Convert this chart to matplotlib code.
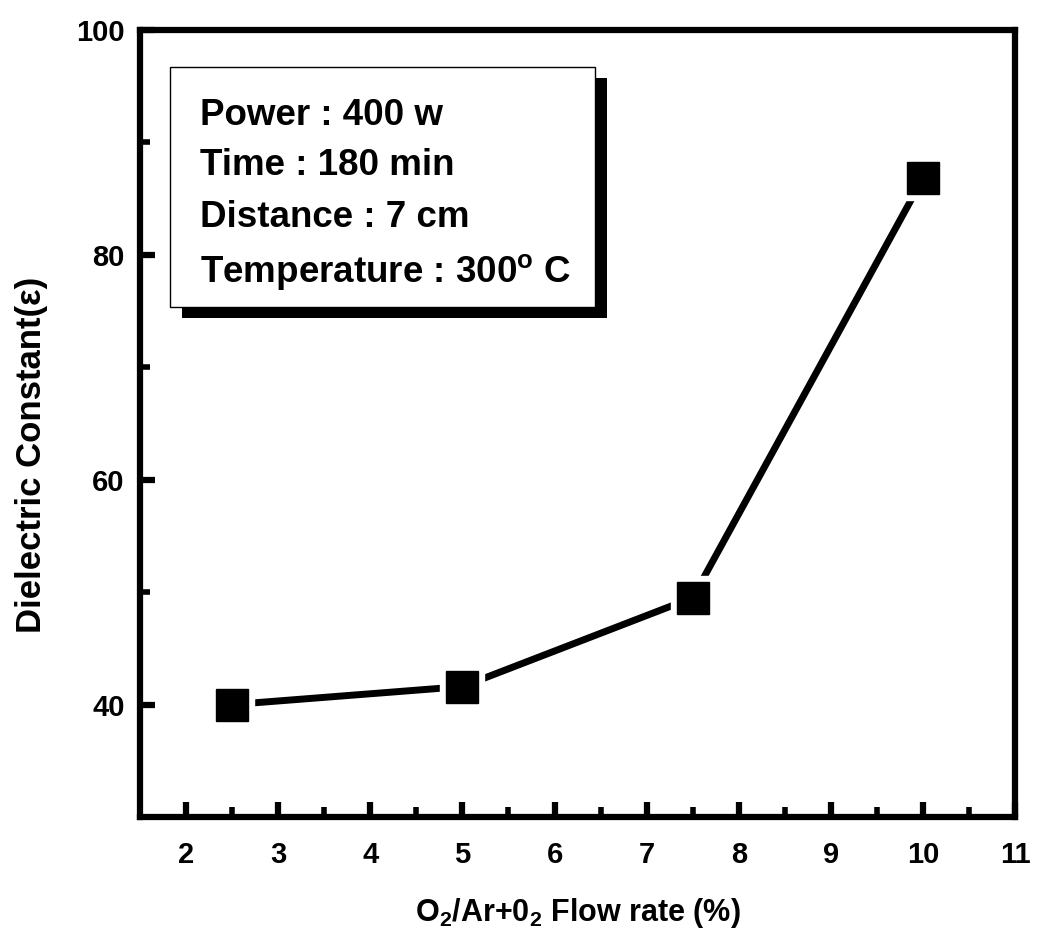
import matplotlib.pyplot as plt
from matplotlib.patches import Rectangle

plt.rcParams['font.family'] = ['Liberation Sans', 'DejaVu Sans']
plt.rcParams['font.weight'] = 'bold'
plt.rcParams['mathtext.fontset'] = 'custom'
plt.rcParams['mathtext.rm'] = 'Liberation Sans:bold'
plt.rcParams['mathtext.bf'] = 'Liberation Sans:bold'
plt.rcParams['mathtext.it'] = 'Liberation Sans:bold'

# data
flow_rate = [2.5, 5, 7.5, 10]
dielectric = [40, 41.6, 49.5, 86.8]

x_ticks = [2, 3, 4, 5, 6, 7, 8, 9, 10, 11]
y_ticks = [40, 60, 80, 100]

info_lines = ['Power : 400 w', 'Time : 180 min', 'Distance : 7 cm',
              r'Temperature : 300$^\mathrm{o}$ C']

fig = plt.figure(figsize=(10.38, 9.42), dpi=100)
ax = fig.add_axes([0.1349, 0.1327, 0.8430, 0.8355])

# line first, white halo squares to open gaps, then black squares
ax.plot(flow_rate, dielectric, color='black', lw=5, solid_capstyle='round', zorder=2)
ax.plot(flow_rate, dielectric, ls='none', marker='s', ms=32, mfc='white', mec='white', zorder=3)
ax.plot(flow_rate, dielectric, ls='none', marker='s', ms=23, mfc='black', mec='black', zorder=4)

ax.set_xlim(1.5, 11)
ax.set_ylim(30, 100)
ax.set_xticks(x_ticks)
ax.set_xticks([2.5, 3.5, 4.5, 5.5, 6.5, 7.5, 8.5, 9.5, 10.5], minor=True)
ax.set_yticks(y_ticks)
ax.set_yticks([50, 70, 90], minor=True)

for s in ax.spines.values():
    s.set_linewidth(4.5)

ax.tick_params(which='major', direction='in', length=11, width=4.5, labelsize=21)
ax.tick_params(which='minor', direction='in', length=7, width=4)
ax.tick_params(axis='x', which='major', pad=17)
ax.tick_params(axis='y', which='major', pad=11)

ax.set_xlabel(r'O$_\mathbf{2}$/Ar+0$_2$ Flow rate (%)', fontsize=22, fontweight='bold')
ax.xaxis.set_label_coords(0.5, -0.10)
ax.set_ylabel('Dielectric Constant(ε)', fontsize=25, fontweight='bold')
ax.yaxis.set_label_coords(-0.105, 0.46)

# info box with drop shadow
ax.add_patch(Rectangle((0.0480, 0.634), 0.486, 0.305, transform=ax.transAxes,
                       facecolor='black', edgecolor='none', zorder=5))
ax.add_patch(Rectangle((0.0343, 0.648), 0.486, 0.305, transform=ax.transAxes,
                       facecolor='white', edgecolor='black', lw=1, zorder=6))
baselines = [0.879, 0.816, 0.750, 0.680]
for txt, yb in zip(info_lines, baselines):
    ax.text(0.0686, yb, txt, transform=ax.transAxes, fontsize=26.5,
            fontweight='bold', va='baseline', ha='left', zorder=7)

fig.savefig('out.png', dpi=100)
